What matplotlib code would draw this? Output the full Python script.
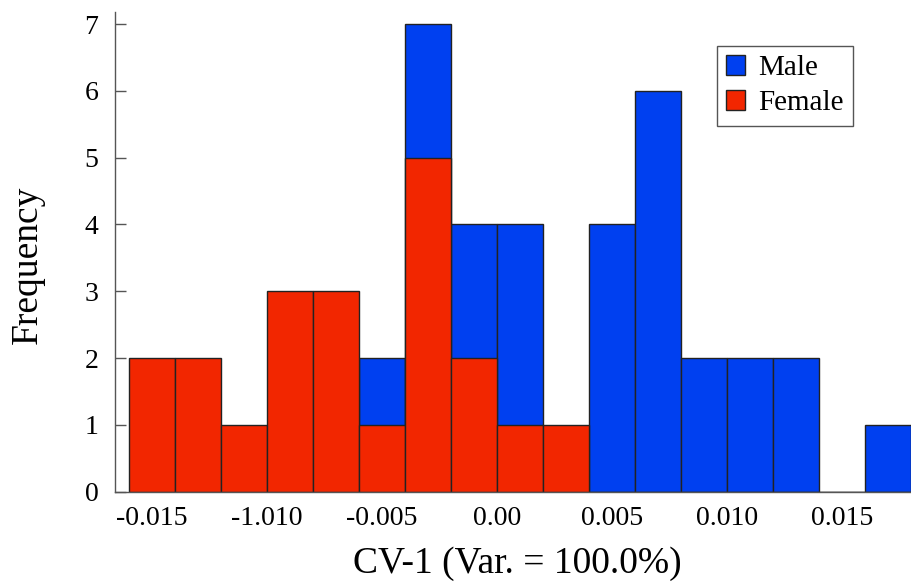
import matplotlib.pyplot as plt
import numpy as np

plt.rcParams['font.family'] = ['Liberation Serif', 'DejaVu Serif']

bin_left = [-0.016, -0.014, -0.012, -0.010, -0.008, -0.006, -0.004, -0.002,
            0.000, 0.002, 0.004, 0.006, 0.008, 0.010, 0.012, 0.014, 0.016]
male = [0, 0, 0, 0, 0, 2, 7, 4, 4, 0, 4, 6, 2, 2, 2, 0, 1]
female = [2, 2, 1, 3, 3, 1, 5, 2, 1, 1, 0, 0, 0, 0, 0, 0, 0]
bin_width = 0.002

xtick_pos = [-0.015, -0.010, -0.005, 0.0, 0.005, 0.010, 0.015]
xtick_labels = ['-0.015', '-1.010', '-0.005', '0.00', '0.005', '0.010', '0.015']

blue = '#0040f0'
red = '#f22600'

fig = plt.figure(figsize=(9.11, 5.87), dpi=100)
ax = fig.add_axes([115 / 911, 1 - 491.7 / 587, 1 - 115 / 911, 479.7 / 587])

ax.bar(bin_left, male, width=bin_width, align='edge', color=blue,
       edgecolor='#222222', linewidth=1, label='Male')
ax.bar(bin_left, female, width=bin_width, align='edge', color=red,
       edgecolor='#222222', linewidth=1, label='Female')

ax.set_xlim(-0.0166, 0.018)
ax.set_ylim(0, 7.18)

ax.set_xticks(xtick_pos)
ax.set_xticklabels(xtick_labels)
ax.set_yticks(range(8))
ax.tick_params(axis='x', length=0, pad=10, labelsize=20)
ax.tick_params(axis='y', direction='in', length=8, width=1, color='#555555',
               pad=12, labelsize=20)

for s in ['top', 'right']:
    ax.spines[s].set_visible(False)
for s in ['left', 'bottom']:
    ax.spines[s].set_color('#555555')
    ax.spines[s].set_linewidth(1)

ax.set_xlabel('CV-1 (Var. = 100.0%)', fontsize=27)
ax.set_ylabel('Frequency', fontsize=27)
ax.xaxis.set_label_coords((517 - 115) / 796, -(564 - 491.7) / 479.7)
ax.yaxis.set_label_coords(-(115 - 28) / 796, (491.7 - 265) / 479.7)
ax.xaxis.label.set_va('center')
ax.yaxis.label.set_va('center')

leg = ax.legend(loc='upper left', bbox_to_anchor=(0.756, 0.929), borderaxespad=0,
                fontsize=21, fancybox=False, framealpha=1, edgecolor='#555555',
                handlelength=0.66, handleheight=0.66, handletextpad=0.45,
                labelspacing=0.3, borderpad=0.32)
leg.get_frame().set_linewidth(1)

fig.savefig('out.png', dpi=100)
